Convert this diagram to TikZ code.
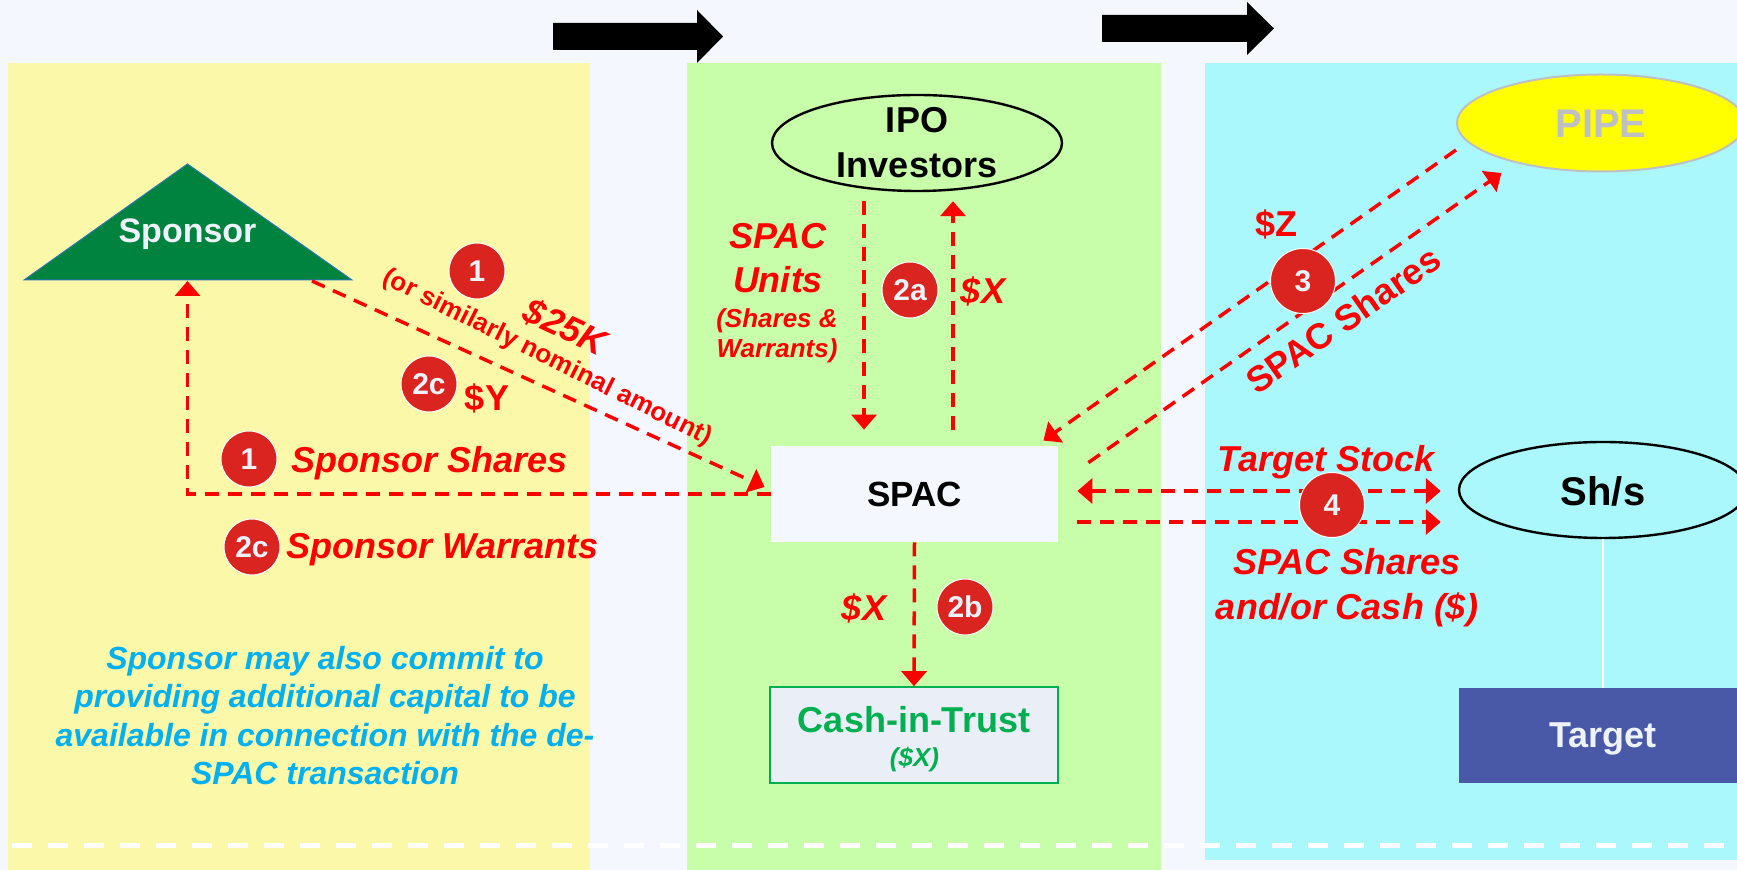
\documentclass[tikz,border=0pt]{standalone}
\usepackage{fontspec}
\setmainfont{Liberation Sans}
\usetikzlibrary{arrows.meta,shapes.geometric,calc}

\definecolor{bgc}{HTML}{F4F7FE}
\definecolor{yellowp}{HTML}{FCF8AA}
\definecolor{greenp}{HTML}{C8FDAA}
\definecolor{cyanp}{HTML}{AAF8FC}
\definecolor{sponsorgreen}{HTML}{00833E}
\definecolor{sponsoredge}{HTML}{2E75B6}
\definecolor{redc}{HTML}{FF0000}
\definecolor{badgec}{HTML}{D92420}
\definecolor{bluetxt}{HTML}{00B0F0}
\definecolor{cashgreen}{HTML}{00B050}
\definecolor{cashfill}{HTML}{EAEEF7}
\definecolor{pipegray}{HTML}{BFBFC6}
\definecolor{pipeyellow}{HTML}{FFFF00}
\definecolor{targetblue}{HTML}{4959A8}
\definecolor{lighttxt}{HTML}{EEF2FA}

\begin{document}
\begin{tikzpicture}[x=0.5pt,y=-0.5pt,
  flow/.style={draw=redc, line width=1.75pt, dash pattern=on 7pt off 4.5pt,
    -{Triangle[length=7.5pt,width=12.5pt]}},
  flowboth/.style={flow, {Triangle[length=7.5pt,width=12.5pt]}-{Triangle[length=7.5pt,width=12.5pt]}},
  badge/.style={circle, fill=badgec, draw=white, line width=0.5pt, minimum size=28pt,
    inner sep=0pt, text=lighttxt, font=\bfseries\fontsize{15pt}{18pt}\selectfont},
  bigbadge/.style={badge, minimum size=32.5pt},
  redlab/.style={text=redc, inner sep=0pt, font=\bfseries\itshape\fontsize{18pt}{22pt}\selectfont},
  redup/.style={text=redc, inner sep=0pt, font=\bfseries\fontsize{18pt}{22pt}\selectfont},
  blacklab/.style={text=black, inner sep=0pt, font=\bfseries\fontsize{18pt}{22.5pt}\selectfont},
  ovalnode/.style={ellipse, minimum width=144pt, minimum height=48pt, inner sep=0pt},
  boxnode/.style={rectangle, minimum width=144pt, minimum height=48pt, inner sep=0pt},
  bigarrow/.style={fill=black}
]
\useasboundingbox (0,0) rectangle (1737,870);
\clip (0,0) rectangle (1737,870);

% background and the three stage panels
\fill[bgc] (0,0) rectangle (1737,870);
\fill[yellowp] (8,63) rectangle (590,870);
\fill[greenp] (687,63) rectangle (1161,870);
\fill[cyanp] (1205,63) rectangle (1737,860);

% dashed white rule near the bottom
\draw[white, line width=2.5pt, dash pattern=on 10pt off 8pt] (12,846) -- (1737,846);

% block arrows between the stages
\fill[bigarrow] (553,23) -- (697,23) -- (697,10) -- (723,36.5) -- (697,63) -- (697,50) -- (553,50) -- cycle;
\fill[bigarrow] (1102,15) -- (1247,15) -- (1247,2) -- (1274,28.5) -- (1247,55) -- (1247,42) -- (1102,42) -- cycle;

% sponsor triangle
\filldraw[fill=sponsorgreen, draw=sponsoredge, line width=0.5pt] (24,280) -- (187.5,164) -- (352,280) -- cycle;
\node[inner sep=0pt, text=lighttxt, font=\bfseries\fontsize{17pt}{20pt}\selectfont, anchor=base] (sponsor) at (187.5,243) {Sponsor};
\coordinate (sponsorB) at (187.5,281);
\coordinate (sponsorR) at (312,281);

% entities (multi-line texts are anchored at the baseline of their last line)
\node[ovalnode, draw=black, line width=1.2pt, minimum width=145pt] (ipo) at (917,143) {};
\node[blacklab, align=center, anchor=base] (ipotxt) at (917,178) {IPO\\Investors};

\node[boxnode, fill=bgc, minimum width=143.5pt] (spac) at (914.5,494) {};
\node[blacklab, font=\bfseries\fontsize{17.5pt}{21pt}\selectfont, anchor=base] (spactxt) at (914.5,507) {SPAC};

\node[boxnode, fill=cashfill, draw=cashgreen, line width=0.8pt] (cash) at (914,735) {};
\node[inner sep=0pt, text=cashgreen, font=\bfseries\fontsize{18pt}{22pt}\selectfont, anchor=base] (cashtxt) at (914,733) {Cash-in-Trust};
\node[inner sep=0pt, text=cashgreen, font=\bfseries\itshape\fontsize{13pt}{16pt}\selectfont, anchor=base] (cashamt) at (914.5,767) {(\$X)};

\node[ovalnode, fill=pipeyellow, draw=pipegray, line width=1pt, minimum height=48.5pt] (pipe) at (1601,123) {};
\node[inner sep=0pt, text=pipegray, font=\bfseries\fontsize{20pt}{24pt}\selectfont, anchor=base] (pipetxt) at (1601,138) {PIPE};

\node[ovalnode, draw=black, line width=1.2pt] (shs) at (1603,490) {};
\node[blacklab, font=\bfseries\fontsize{20pt}{24pt}\selectfont, anchor=base] (shstxt) at (1603,506) {Sh/s};

\node[boxnode, fill=targetblue, minimum height=47.5pt] (target) at (1603,735.5) {};
\node[inner sep=0pt, text=lighttxt, font=\bfseries\fontsize{18pt}{22pt}\selectfont, anchor=base] (targettxt) at (1603,748) {Target};

% flows
\draw[flow] (sponsorR) -- ($(spac.west)+(-6,-7)$);
\draw[flow] (spac.west) -| (sponsorB);
\draw[flow] ($(ipo.south)+(-53,9)$) -- ($(spac.north)+(-50.5,-16)$);
\draw[flow] ($(spac.north)+(38.5,-16)$) -- ($(ipo.south)+(36,9)$);
\draw[flow] (spac.south) -- (cash.north);
\draw[flow] ($(pipe.west)+(0,27)$) -- ($(spac.north east)+(-15,-5)$);
\draw[flow] ($(spac.north east)+(30,17)$) -- ($(pipe.south west)+(3,15)$);
\draw[flowboth] ($(spac.east)+(19,-3)$) -- ($(shs.west)+(-17,1)$);
\draw[flow] ($(spac.east)+(19,28)$) -- ($(shs.west)+(-17,32)$);
\draw[white, line width=0.6pt] (shs.south) -- (target.north);

% step markers
\node[badge] (b1a) at (477,271) {1};
\node[badge] (b2ca) at (429,384) {2c};
\node[badge] (b1b) at (249,459) {1};
\node[badge] (b2cb) at (252,547) {2c};
\node[badge] (b2a) at (910,290) {2a};
\node[badge] (b2b) at (965,607) {2b};
\node[bigbadge] (b3) at (1303,281) {3};
\node[bigbadge] (b4) at (1332,505) {4};

% flow labels
\node[redlab, rotate=-25] (l25k) at (565,327) {\$25K};
\node[redup, font=\bfseries\fontsize{13pt}{16pt}\selectfont, rotate=-26.5] (lnominal) at (547,358) {(or similarly nominal amount)};
\node[redup] (ly) at (487,398) {\$Y};
\node[redlab, anchor=base] (lsshares) at (430,473) {Sponsor Shares};
\node[redlab, anchor=base] (lswarrants) at (442.5,559) {Sponsor Warrants};
\node[redlab, align=center, anchor=base] (lunits) at (778,293) {SPAC\\Units};
\node[redlab, font=\bfseries\itshape\fontsize{13pt}{15pt}\selectfont, align=center, anchor=base] (lunitsnote) at (777,358) {(Shares \&\\Warrants)};
\node[redlab] (lxup) at (983,291) {\$X};
\node[redlab] (lxdown) at (864,608) {\$X};
\node[redup] (lz) at (1276,224) {\$Z};
\node[redup, rotate=35] (lpipeshares) at (1343,320) {SPAC Shares};
\node[redlab, anchor=base] (ltarget) at (1326,472) {Target Stock};
\node[redlab, align=center, anchor=base, font=\bfseries\itshape\fontsize{18pt}{22.5pt}\selectfont] (lconsid) at (1347,620) {SPAC Shares\\and/or Cash (\$)};

% note on additional sponsor capital
\node[text=bluetxt, inner sep=0pt, align=center, anchor=base,
  font=\bfseries\itshape\fontsize{16pt}{19.25pt}\selectfont] (note) at (325,785)
  {Sponsor may also commit to\\providing additional capital to be\\available in connection with the de-\\SPAC transaction};
\end{tikzpicture}
\end{document}
